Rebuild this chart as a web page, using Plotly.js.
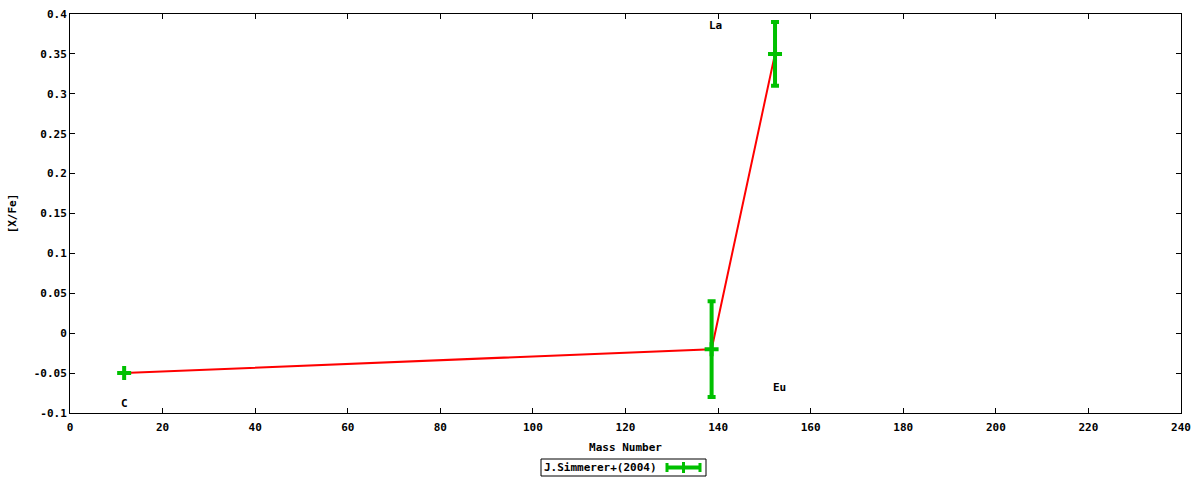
<!DOCTYPE html>
<html>
<head>
<meta charset="utf-8">
<script src="https://cdn.plot.ly/plotly-3.0.1.min.js"></script>
<style>
  html, body { margin: 0; padding: 0; background: #fff; }
  #chart { width: 1200px; height: 480px; }
</style>
</head>
<body>
<div id="chart"></div>
<script>
// Abundance pattern, J.Simmerer+(2004)
const elements = ['C', 'La', 'Eu'];
const massNumber = [11.7, 138.6, 152.3];
const xFe = [-0.05, -0.02, 0.35];
const xFeErr = [0, 0.06, 0.04];

// element label positions (as placed on the original plot)
const labelX = [11.7, 139.5, 153.3];
const labelY = [-0.0875, 0.385, -0.0675];

const yTicks = [-0.1, -0.05, 0, 0.05, 0.1, 0.15, 0.2, 0.25, 0.3, 0.35, 0.4];
const yTickText = ['-0.1', '-0.05', '0', '0.05', '0.1', '0.15', '0.2', '0.25', '0.3', '0.35', '0.4'];

const legendName = 'J.Simmerer+(2004)';

const GREEN = '#00c000';
const RED = '#ff0000';
const FONT = { family: 'DejaVu Sans Mono, monospace', size: 11, color: '#000', weight: 'bold' };

// plot-area pixel box, used to place the hand-drawn legend in paper coords
const PLOT = { left: 70, right: 1181, top: 14, bottom: 413 };
const px = x => (x - PLOT.left) / (PLOT.right - PLOT.left);
const py = y => (PLOT.bottom - y) / (PLOT.bottom - PLOT.top);

const lineTrace = {
    x: massNumber,
    y: xFe,
    type: 'scatter',
    mode: 'lines',
    line: { color: RED, width: 2 },
    hoverinfo: 'skip',
    showlegend: false,
};

const pointTrace = {
    x: massNumber,
    y: xFe,
    type: 'scatter',
    mode: 'markers',
    name: legendName,
    marker: { symbol: 'cross-thin', size: 10, color: GREEN, line: { color: GREEN, width: 4 } },
    error_y: { type: 'data', array: xFeErr, visible: true, color: GREEN, thickness: 4, width: 4 },
    text: elements,
    showlegend: false,
};

const labels = elements.map((e, i) => ({
    x: labelX[i],
    y: labelY[i],
    xref: 'x',
    yref: 'y',
    text: e,
    showarrow: false,
    font: FONT,
}));

// legend: boxed title with an error-bar sample to its right
const legY = 467.5;
const legendAnn = {
    x: px(542), y: py(legY), xref: 'paper', yref: 'paper',
    xanchor: 'left', yanchor: 'middle',
    text: legendName, showarrow: false, font: FONT,
};
const legendShapes = [
    { type: 'rect', xref: 'paper', yref: 'paper',
      x0: px(541), x1: px(706), y0: py(476), y1: py(459),
      line: { color: '#000', width: 1 }, fillcolor: 'rgba(0,0,0,0)' },
    { type: 'line', xref: 'paper', yref: 'paper',
      x0: px(666), x1: px(701), y0: py(legY), y1: py(legY),
      line: { color: GREEN, width: 4 } },
    { type: 'line', xref: 'paper', yref: 'paper',
      x0: px(667), x1: px(667), y0: py(463), y1: py(472),
      line: { color: GREEN, width: 3 } },
    { type: 'line', xref: 'paper', yref: 'paper',
      x0: px(700), x1: px(700), y0: py(463), y1: py(472),
      line: { color: GREEN, width: 3 } },
    { type: 'line', xref: 'paper', yref: 'paper',
      x0: px(683.5), x1: px(683.5), y0: py(462), y1: py(473),
      line: { color: GREEN, width: 3 } },
];

const axisCommon = {
    showline: true,
    mirror: 'ticks',
    linecolor: '#000',
    linewidth: 1,
    ticks: 'inside',
    ticklen: 5,
    tickcolor: '#000',
    showgrid: false,
    zeroline: false,
    tickfont: FONT,
};

const layout = {
    width: 1200,
    height: 480,
    margin: { l: PLOT.left, r: 1200 - PLOT.right, t: PLOT.top, b: 480 - PLOT.bottom },
    paper_bgcolor: '#fff',
    plot_bgcolor: '#fff',
    font: FONT,
    showlegend: false,
    xaxis: {
        ...axisCommon,
        range: [0, 240],
        dtick: 20,
        tick0: 0,
        ticklabelstandoff: 4,
        title: { text: 'Mass Number', font: FONT, standoff: 10 },
    },
    yaxis: {
        ...axisCommon,
        range: [-0.1, 0.4],
        tickvals: yTicks,
        ticktext: yTickText,
        title: { text: '[X/Fe]', font: FONT, standoff: 14 },
    },
    annotations: [...labels, legendAnn],
    shapes: legendShapes,
};

Plotly.newPlot('chart', [lineTrace, pointTrace], layout, { staticPlot: true });
</script>
</body>
</html>
